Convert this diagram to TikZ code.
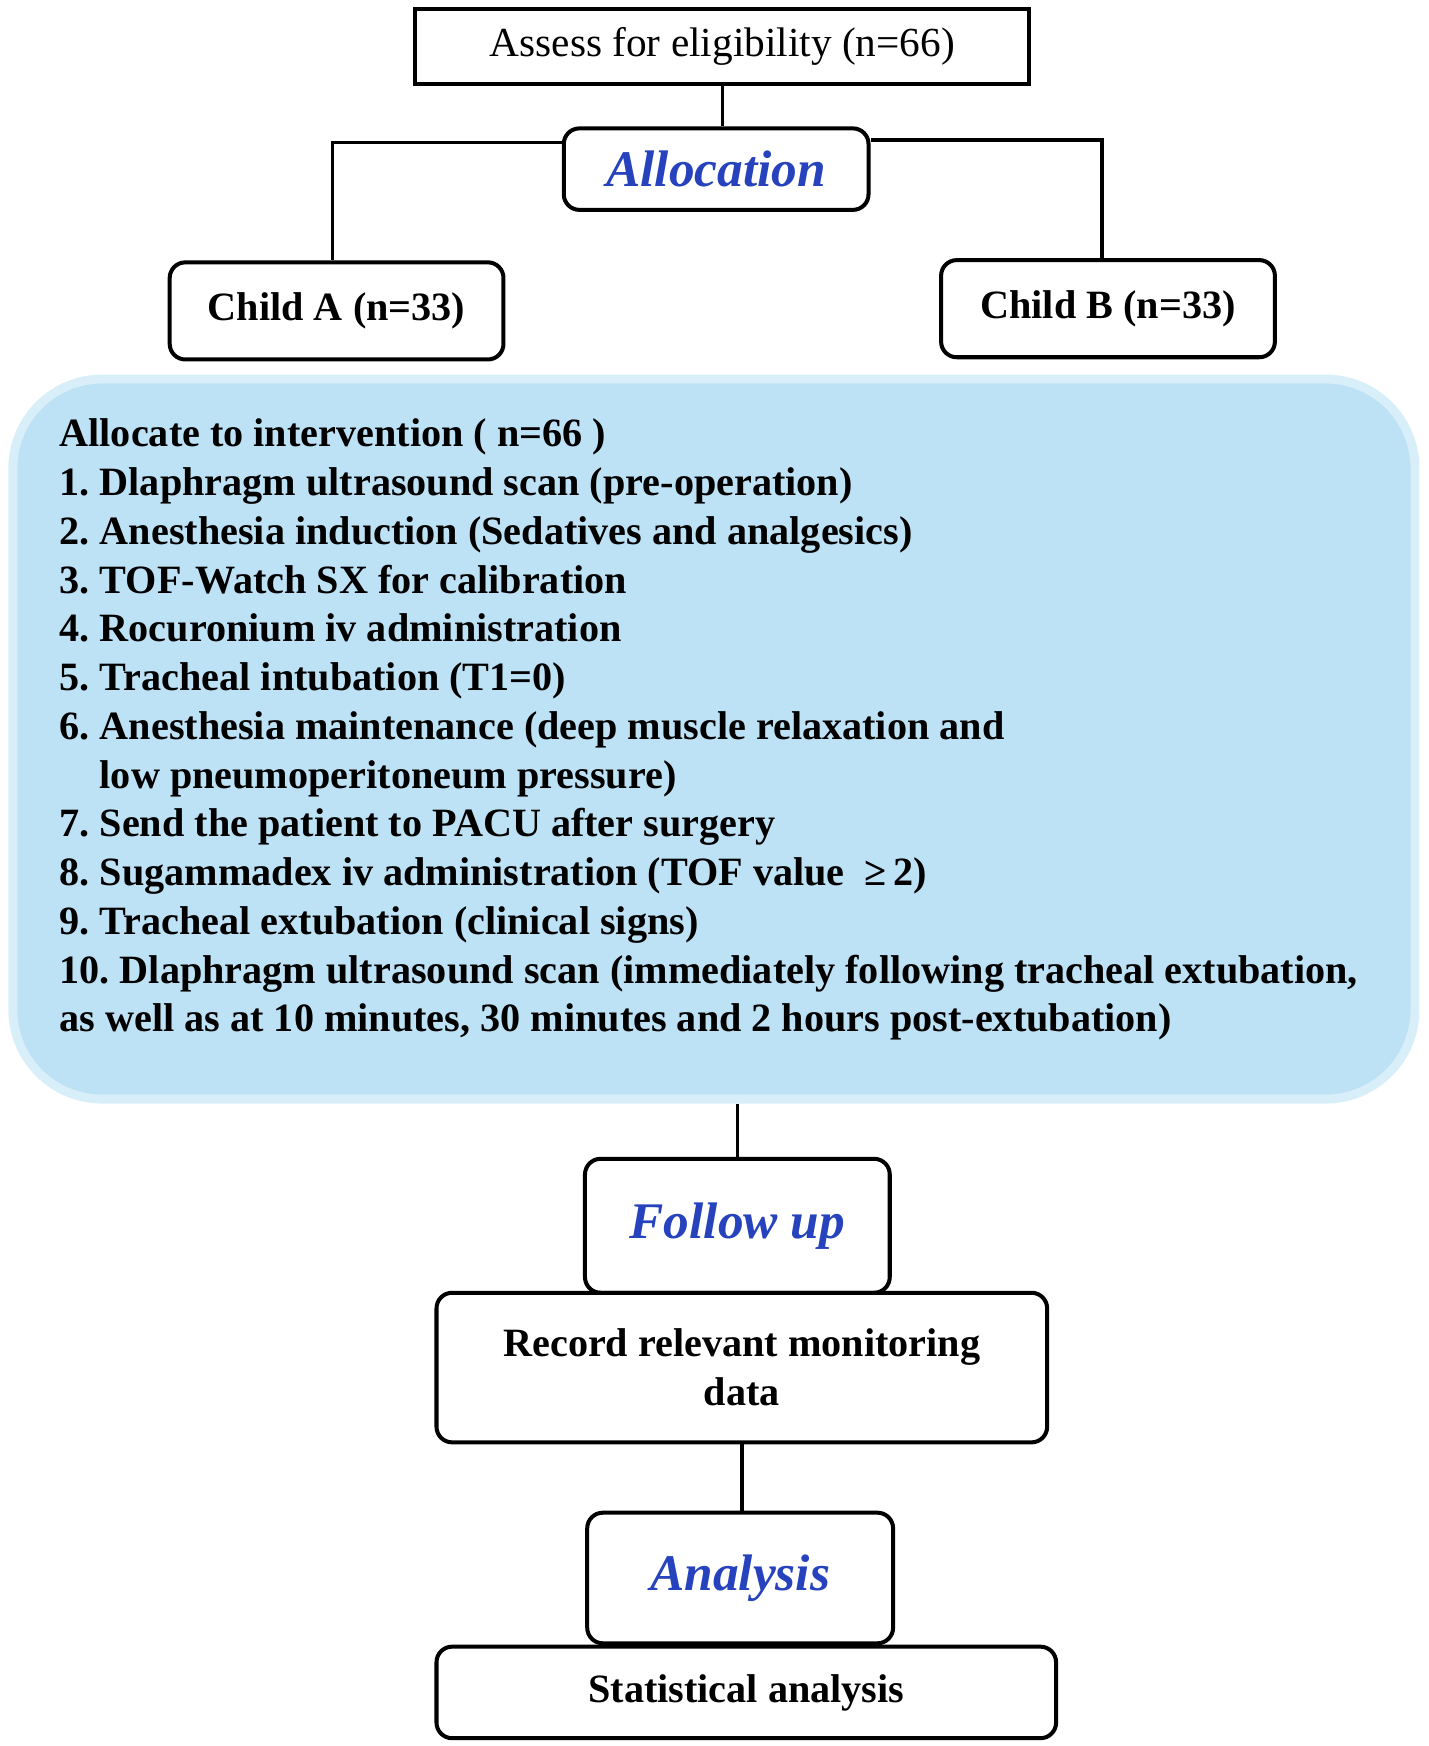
\documentclass[tikz,border=0pt]{standalone}
\usepackage{fontspec}
\setmainfont{Liberation Serif}
\usetikzlibrary{positioning}
\definecolor{paleblue}{RGB}{190,226,245}
\definecolor{stageblue}{RGB}{38,66,188}
\frenchspacing

\begin{document}
\begin{tikzpicture}[x=0.5pt,y=-0.5pt,
  box/.style={draw,line width=1.8pt,align=center,inner sep=0pt,
    font=\fontsize{18}{21.8}\selectfont\bfseries},
  rbox/.style={box,rounded corners=7pt},
  stage/.style={rbox,text=stageblue,font=\fontsize{23}{27}\selectfont\bfseries\itshape},
  link/.style={line width=1.5pt}]
  \useasboundingbox (0,0) rectangle (1280,1564);

  \node[box,font=\fontsize{18.5}{22}\selectfont,minimum width=275pt,minimum height=33.5pt] (assess) at (647,41.5) {Assess for eligibility (n=66)};
  \node[stage,minimum width=136.5pt,minimum height=36.5pt] (alloc) at (641.5,151.5) {Allocation};
  \node[rbox,minimum width=149.5pt,minimum height=43.5pt] (childA) at (301.5,278.5) {Child A (n=33)};
  \node[rbox,minimum width=149.5pt,minimum height=43.5pt] (childB) at (992.5,276.5) {Child B (n=33)};

  \node[fill=paleblue,draw=paleblue!60,line width=4pt,rounded corners=40pt,inner sep=0pt,
    minimum width=628pt,minimum height=322.5pt] (interv) at (639.5,662) {};
  \node[anchor=north west,align=left,inner sep=0pt,font=\fontsize{18}{21.83}\selectfont\bfseries] (steps) at (53,375)
    {Allocate to intervention ( n=66 )\\
     1. Dlaphragm ultrasound scan (pre-operation)\\
     2. Anesthesia induction (Sedatives and analgesics)\\
     3. TOF-Watch SX for calibration\\
     4. Rocuronium iv administration\\
     5. Tracheal intubation (T1=0)\\
     6. Anesthesia maintenance (deep muscle relaxation and\\
     \phantom{6. }low pneumoperitoneum pressure)\\
     7. Send the patient to PACU after surgery\\
     8. Sugammadex iv administration (TOF value ~≥\,2)\\
     9. Tracheal extubation (clinical signs)\\
     10. Dlaphragm ultrasound scan (immediately following tracheal extubation,\\
     as well as at 10 minutes, 30 minutes and 2 hours post-extubation)};

  \node[stage,minimum width=136.5pt,minimum height=60pt] (follow) at (660.5,1098) {Follow up};
  \node[rbox,minimum width=273.5pt,minimum height=67pt] (record) at (664.5,1225) {Record relevant monitoring\\data};
  \node[stage,minimum width=137pt,minimum height=58.5pt] (analysis) at (663,1413.5) {Analysis};
  \node[rbox,minimum width=277.5pt,minimum height=41pt] (stats) at (668.5,1516) {Statistical analysis};

  \draw[link] (assess.south) -- (assess.south |- alloc.north);
  \draw[link] ([yshift=12pt]alloc.west) -| ([xshift=-1.75pt]childA.north);
  \draw[link] ([yshift=13pt]alloc.east) -| ([xshift=-2.75pt]childB.north);
  \draw[link] (interv.south -| follow.north) -- (follow.north);
  \draw[link] (record.south) -- (record.south |- analysis.north);
\end{tikzpicture}
\end{document}
